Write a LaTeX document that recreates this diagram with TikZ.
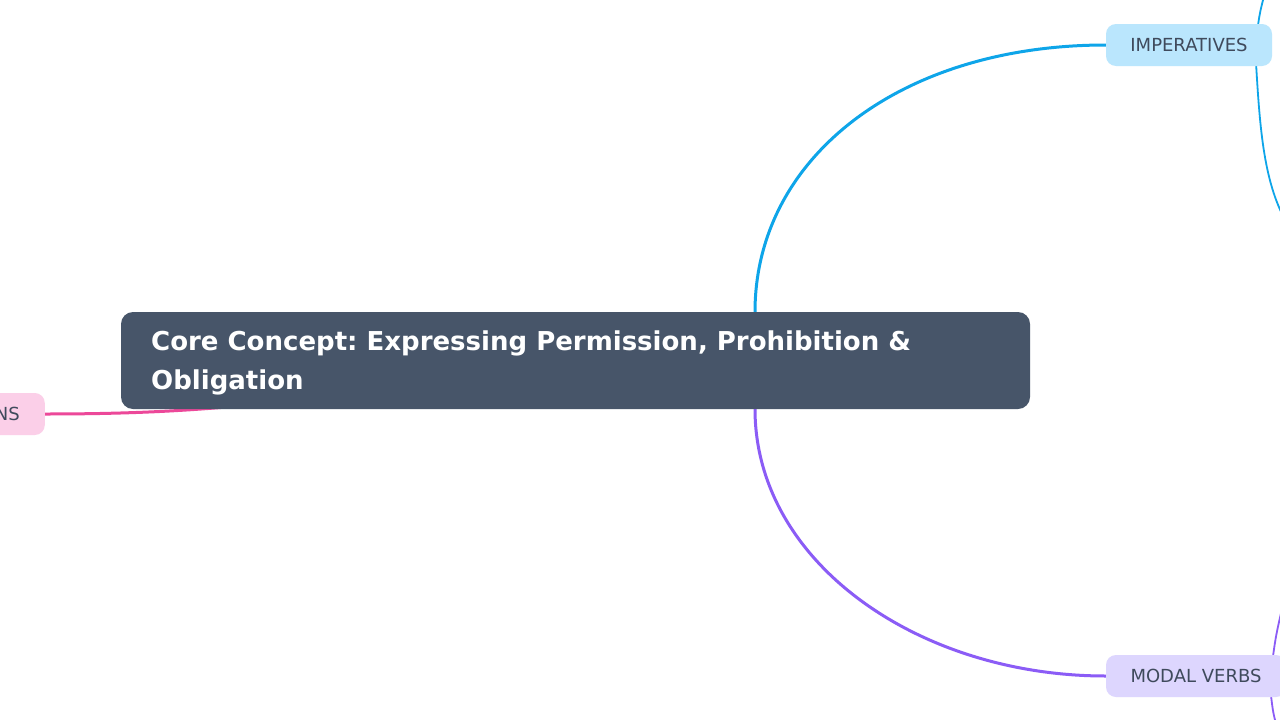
\documentclass[tikz,border=0pt]{standalone}
\usepackage{fontspec}
\setmainfont{DejaVu Sans}
\usetikzlibrary{backgrounds}
\frenchspacing
\definecolor{mainfill}{HTML}{475569}
\definecolor{bluefill}{HTML}{BAE6FD}
\definecolor{blueline}{HTML}{0EA5E9}
\definecolor{violetfill}{HTML}{DDD6FE}
\definecolor{violetline}{HTML}{8B5CF6}
\definecolor{pinkfill}{HTML}{FBCFE8}
\definecolor{pinkline}{HTML}{EC4899}
\definecolor{childtext}{HTML}{3F4A5C}
\tikzset{
  mainbox/.style={fill=mainfill, rounded corners=12pt, minimum width=909pt, minimum height=97pt, inner sep=0pt},
  maintext/.style={anchor=base west, inner sep=0pt, text=white, font=\bfseries\fontsize{26}{39}\selectfont},
  childbox/.style={rounded corners=10pt, minimum width=166pt, minimum height=42pt,
    inner ysep=0pt, text=childtext, font=\fontsize{18}{22}\selectfont},
  branch/.style={line width=3pt, line cap=round},
  twig/.style={line width=1.8pt, line cap=round},
}
\begin{document}
\begin{tikzpicture}[x=1pt,y=-1pt]
\useasboundingbox (0,0) rectangle (1280,720);
\clip (0,0) rectangle (1280,720);
\node[mainbox] (core) at (575.5,360.5) {};
\node[maintext] (coreA) at (151,350) {Core Concept: Expressing Permission, Prohibition \&};
\node[maintext] (coreB) at (151,389) {Obligation};
\node[childbox, fill=bluefill] (imp) at (1189,45) {IMPERATIVES};
\node[childbox, fill=violetfill, minimum width=180pt] (modal) at (1196,676) {MODAL VERBS};
\node[childbox, fill=pinkfill, anchor=east, minimum width=0pt, text width=60pt, align=right, inner xsep=25pt] (pinkn) at (45,414) {NS};
\coordinate (bt) at (755,312);
\coordinate (bb) at (755,409);
\coordinate (pk) at (270,403);
\coordinate (i1) at (1265,-8);
\coordinate (i2) at (1288,225);
\coordinate (m1) at (1284,600);
\coordinate (m2) at (1277,728);
\begin{scope}[on background layer]
\fill[white] (0,0) rectangle (1280,720);
\draw[branch, blueline] (bt) .. controls (755,158) and (900,45) .. (imp.west);
\draw[branch, violetline] (bb) .. controls (755,562) and (918,676) .. (modal.west);
\draw[branch, pinkline] (pinkn.east) .. controls (140,414) and (200,410) .. (pk);
\draw[twig, blueline] ([xshift=-14pt]imp.north east) .. controls (1260,12) .. (i1);
\draw[twig, blueline] ([xshift=-16pt]imp.south east) .. controls (1260,130) and (1264,185) .. (i2);
\draw[twig, violetline] ([xshift=-13pt]modal.north east) .. controls (1276,635) .. (m1);
\draw[twig, violetline] ([xshift=-15pt]modal.south east) .. controls (1273,712) .. (m2);
\end{scope}
\end{tikzpicture}
\end{document}
